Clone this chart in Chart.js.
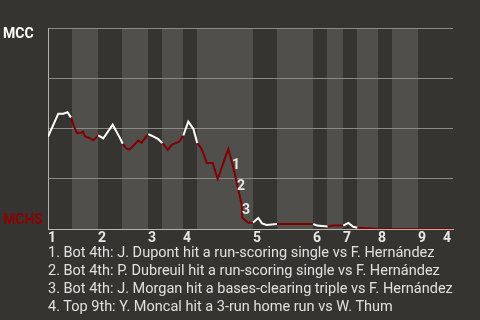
<!DOCTYPE html>
<html>
<head>
<meta charset="utf-8">
<script src="https://cdn.jsdelivr.net/npm/chart.js@4.4.1/dist/chart.umd.min.js"></script>
<style>
  html, body { margin: 0; padding: 0; background: #363430; }
  #wrap { position: relative; width: 480px; height: 320px; overflow: hidden; }
  #chart-box { position: absolute; left: 0; top: 0; width: 480px; height: 250px; }
  #notes {
    position: absolute; left: 48px; top: 243.5px;
    font: 14.5px Roboto, sans-serif; line-height: 18px;
    color: #e0e0e0; white-space: nowrap;
  }
</style>
</head>
<body>
<div id="wrap">
  <div id="chart-box"><canvas id="c"></canvas></div>
  <div id="notes"></div>
</div>
<script>
// ── Data ──────────────────────────────────────────────────────────────────
// x = plate-appearance position, y = MCC win probability (%)
const wpX = [0, 2.06, 3.06, 3.9, 4.6, 5.06, 5.8, 6.6, 7.0, 7.4, 8.2, 9.06, 10.06, 11.06, 12.94,
  14.4, 14.94, 15.74, 16.3, 17.06, 18.06, 18.74, 19.4, 20.06, 20.74, 22.06, 22.94, 23.94, 24.74,
  25.74, 26.26, 27.06, 28.06, 29.06, 29.86, 30.4, 30.94, 31.74, 32.94, 33.94, 36.06, 36.94, 37.86,
  38.74, 38.86, 40.06, 41.0, 42.06, 42.8, 43.74, 45.8, 53.06, 53.8, 55.94, 57.06, 59.06, 60.06,
  61.06, 61.9, 64.94, 65.86, 81];
const wpY = [45.9, 57.4, 57.4, 58.1, 55.4, 51.9, 47.7, 47.9, 48.4, 46.1, 45.4, 44.1, 46.6, 45.1, 51.9,
  45.2, 42.4, 39.9, 39.6, 41.4, 44.0, 43.0, 45.2, 47.2, 46.4, 44.7, 42.7, 39.4, 41.9,
  43.0, 43.5, 46.5, 53.4, 49.9, 42.7, 41.0, 38.6, 32.8, 32.8, 24.9, 39.8, 31.9, 21.9,
  12.0, 5.6, 3.1, 3.2, 5.5, 2.8, 2.0, 2.5, 2.5, 1.7, 1.3, 1.7, 1.7, 3.0,
  1.1, 0.6, 0.3, 0, 0];

// half-inning starts (even index = top half, odd = bottom half)
const halfStarts = [0, 4.8, 10, 14.8, 20, 22.8, 27, 29.8, 41, 45.8, 53, 55.8, 59, 61.8, 66, 68.8, 74];
const xEnd = 81;
const inningLabels = ['1', '2', '3', '4', '5', '6', '7', '8', '9'];

const annLabels = ['1', '2', '3', '4'];
const annX = [37.6, 38.6, 39.6, 79.8];
const annY = [31.6, 21.1, 9.0, -4.5];

const notes = [
  '1. Bot 4th: J. Dupont hit a run-scoring single vs F. Hernández',
  '2. Bot 4th: P. Dubreuil hit a run-scoring single vs F. Hernández',
  '3. Bot 4th: J. Morgan hit a bases-clearing triple vs F. Hernández',
  '4. Top 9th: Y. Moncal hit a 3-run home run vs W. Thum',
];

// ── Style ─────────────────────────────────────────────────────────────────
const BG = '#363430';
const BAND = '#504f4c';
const GRID = '#8a8986';
const AXIS = '#b4b3b0';
const WHITE = '#ffffff';
const RED = '#800000';
const TEXT = '#e6e6e6';

document.getElementById('notes').innerHTML = notes.map(n => `<div>${n}</div>`).join('');

const inningStarts = halfStarts.filter((_, i) => i % 2 === 0);

function isTopHalf(x) {
  let idx = 0;
  halfStarts.forEach((s, i) => { if (x >= s) idx = i; });
  return idx % 2 === 0;
}

const bandsPlugin = {
  id: 'bands',
  beforeDraw(chart) {
    const { ctx, chartArea: a, scales: { x } } = chart;
    ctx.save();
    ctx.fillStyle = BG;
    ctx.fillRect(0, 0, chart.width, chart.height);
    ctx.fillStyle = BAND;
    halfStarts.forEach((s, i) => {
      if (i % 2 === 0) return;
      const e = halfStarts[i + 1] ?? xEnd;
      const x0 = Math.round(x.getPixelForValue(s));
      const x1 = Math.round(x.getPixelForValue(e));
      ctx.fillRect(x0, a.top, x1 - x0, a.bottom - a.top);
    });
    ctx.restore();
  },
  afterDraw(chart) {
    const { ctx, chartArea: a, scales: { x, y } } = chart;
    ctx.save();
    ctx.font = 'bold 14px Roboto, sans-serif';
    ctx.textBaseline = 'middle';
    ctx.textAlign = 'left';
    ctx.fillStyle = WHITE;
    ctx.fillText('MCC', 3, a.top + 6);
    ctx.fillStyle = '#8b0000';
    ctx.fillText('MCHS', 3, a.bottom - 9);
    ctx.textAlign = 'center';
    ctx.fillStyle = TEXT;
    annLabels.forEach((t, i) => {
      ctx.fillText(t, x.getPixelForValue(annX[i]), y.getPixelForValue(annY[i]));
    });
    ctx.restore();
  },
};

new Chart(document.getElementById('c'), {
  type: 'line',
  data: {
    datasets: [{
      data: wpX.map((x, i) => ({ x, y: wpY[i] })),
      borderWidth: 2,
      pointRadius: 0,
      tension: 0,
      borderColor: WHITE,
      segment: {
        borderColor: ctx => isTopHalf((ctx.p0.parsed.x + ctx.p1.parsed.x) / 2) ? WHITE : RED,
      },
    }],
  },
  options: {
    responsive: true,
    maintainAspectRatio: false,
    animation: false,
    layout: { padding: { left: 48, right: 27, top: 28, bottom: 0 } },
    plugins: { legend: { display: false }, tooltip: { enabled: false } },
    scales: {
      x: {
        type: 'linear',
        min: 0,
        max: xEnd,
        grid: { display: false, drawTicks: false },
        border: { color: AXIS, width: 1 },
        afterBuildTicks: s => { s.ticks = inningStarts.map(v => ({ value: v })); },
        afterFit: s => { s.height = 21; },
        ticks: {
          autoSkip: false,
          maxRotation: 0,
          align: 'start',
          padding: 1,
          color: TEXT,
          font: { family: 'Roboto, sans-serif', size: 14, weight: 'bold' },
          callback: (v, i) => inningLabels[i],
        },
      },
      y: {
        min: 0,
        max: 100,
        grid: { color: GRID, drawTicks: false },
        border: { color: AXIS },
        afterFit: s => { s.width = 0; },
        ticks: { display: false, stepSize: 25 },
      },
    },
  },
  plugins: [bandsPlugin],
});
</script>
</body>
</html>
